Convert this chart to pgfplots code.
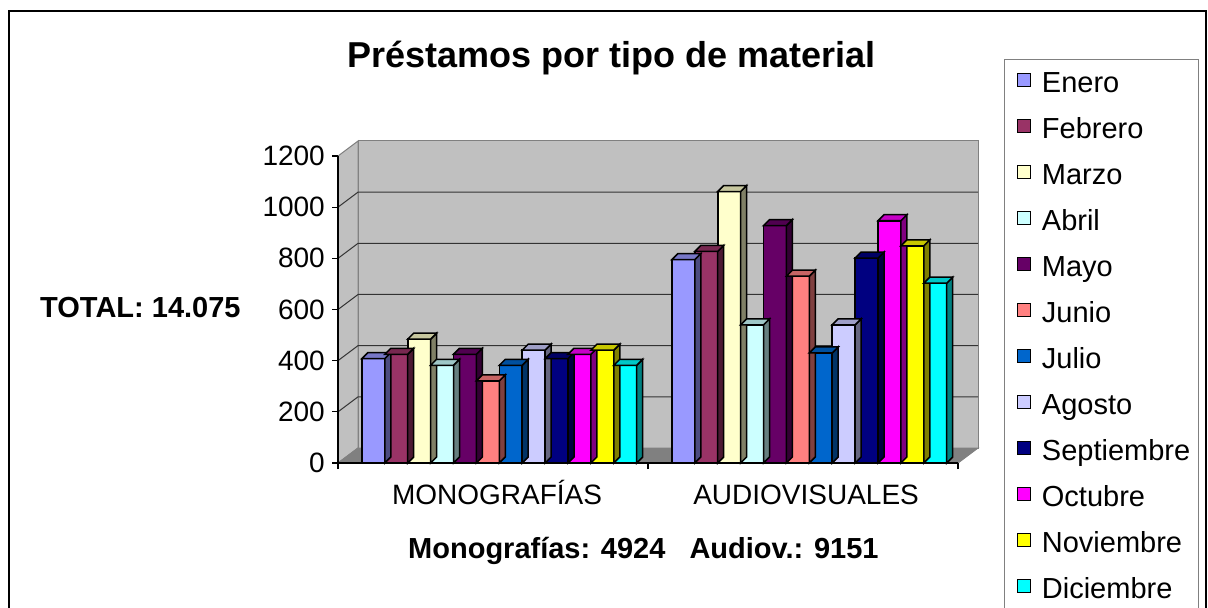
\documentclass[border=0pt]{standalone}
\usepackage{fontspec}
\setmainfont{Liberation Sans}
\usepackage{pgfplots}
\pgfplotsset{compat=1.18}

\definecolor{c1}{HTML}{9999FF}
\definecolor{c2}{HTML}{993366}
\definecolor{c3}{HTML}{FFFFCC}
\definecolor{c4}{HTML}{CCFFFF}
\definecolor{c5}{HTML}{660066}
\definecolor{c6}{HTML}{FF8080}
\definecolor{c7}{HTML}{0066CC}
\definecolor{c8}{HTML}{CCCCFF}
\definecolor{c9}{HTML}{000080}
\definecolor{c10}{HTML}{FF00FF}
\definecolor{c11}{HTML}{FFFF00}
\definecolor{c12}{HTML}{00FFFF}
\definecolor{wall}{HTML}{C0C0C0}
\definecolor{floorc}{HTML}{808080}
\definecolor{edge}{HTML}{808080}

\newdimen\sideh
\newdimen\sidet
\pgfdeclareplotmark{bartop}{%
  \pgfpathmoveto{\pgfqpoint{-11.45pt}{0pt}}%
  \pgfpathlineto{\pgfqpoint{11.45pt}{0pt}}%
  \pgfpathlineto{\pgfqpoint{17.45pt}{6pt}}%
  \pgfpathlineto{\pgfqpoint{-5.45pt}{6pt}}%
  \pgfpathclose
  \pgfusepathqfillstroke}
\pgfdeclareplotmark{barside}{%
  \sideh=\rawy pt\relax
  \sideh=0.2558333\sideh
  \sidet=6pt\relax
  \advance\sidet by -\sideh
  \pgfpathmoveto{\pgfqpoint{11.45pt}{0pt}}%
  \pgfpathlineto{\pgfqpoint{17.45pt}{6pt}}%
  \pgfpathlineto{\pgfqpoint{17.45pt}{\sidet}}%
  \pgfpathlineto{\pgfqpoint{11.45pt}{-\sideh}}%
  \pgfpathclose
  \pgfusepathqfillstroke}

\pgfplotsset{
  front/.style 2 args={ybar, bar width=22.9pt, bar shift=#1pt, fill=#2, draw=black, line width=1.6pt,
    legend image code/.code={\path (0pt,0pt); \draw[fill=#2, draw=black, line width=1.2pt] (4pt,-1pt) rectangle (17pt,12pt);}},
  side/.style 2 args={forget plot, only marks, mark=barside, visualization depends on={rawy \as \rawy},
    mark options={xshift=#1pt, fill=#2!50!black, draw=black, line width=1.5pt}},
  top/.style 2 args={forget plot, only marks, mark=bartop,
    mark options={xshift=#1pt, fill=#2!78!black, draw=black, line width=1.5pt}},
}

\begin{document}
\begin{tikzpicture}[x=1pt,y=1pt]
\useasboundingbox (0,0) rectangle (1208,608);
\clip (0,0) rectangle (1208,608);
\fill[white] (0,0) rectangle (1208,608);
\draw[line width=2pt] (9,597) rectangle (1206,-20);

\begin{axis}[
  at={(338pt,145pt)}, anchor=south west,
  scale only axis, width=620pt, height=307pt,
  xmin=-0.5, xmax=1.5, ymin=0, ymax=1200,
  clip=false, axis on top,
  axis x line*=bottom, axis y line*=left,
  axis line style={line width=1.3pt, black},
  tick align=outside, major tick length=6pt,
  tick style={line width=1.3pt, black},
  ytick={0,200,...,1200},
  xtick={-0.5,0.5,1.5}, xticklabels={},
  extra x ticks={0.013,1.01},
  extra x tick labels={MONOGRAFÍAS,AUDIOVISUALES},
  extra x tick style={major tick length=0pt, xticklabel style={text height=21pt, text depth=5pt, yshift=-17pt}},
  /pgf/number format/assume math mode=true,
  /pgf/number format/1000 sep={},
  tick label style={font=\fontsize{28}{33}\selectfont},
  yticklabel style={inner sep=0pt, xshift=-7pt},
  legend style={at={(1.0742,1.316)}, anchor=north west, draw=edge, line width=1pt,
    font=\fontsize{29}{34}\selectfont, inner xsep=8pt, inner ysep=12.4pt,
    row sep=19pt, column sep=11pt,
    nodes={inner sep=0pt, text height=21pt, text depth=6pt},
    cells={anchor=west}},
  legend cell align=left,
]
% walls
\filldraw[fill=wall, draw=edge, line width=1pt] ([shift={(20pt,15pt)}]axis cs:-0.5,0) rectangle ([shift={(20pt,15pt)}]axis cs:1.5,1200);
\filldraw[fill=wall, draw=edge, line width=1pt] (axis cs:-0.5,0) -- (axis cs:-0.5,1200) -- ([shift={(20pt,15pt)}]axis cs:-0.5,1200) -- ([shift={(20pt,15pt)}]axis cs:-0.5,0) -- cycle;
\filldraw[fill=floorc, draw=edge, line width=1pt] (axis cs:-0.5,0) -- (axis cs:1.5,0) -- ([shift={(20pt,15pt)}]axis cs:1.5,0) -- ([shift={(20pt,15pt)}]axis cs:-0.5,0) -- cycle;
\pgfplotsinvokeforeach{200,400,600,800,1000}{
  \draw[black!80, line width=1pt] (axis cs:-0.5,#1) -- ([shift={(20pt,15pt)}]axis cs:-0.5,#1) -- ([shift={(20pt,15pt)}]axis cs:1.5,#1);
}

\addplot[front={-119.65}{c1}] coordinates {(0,408) (1,795)}; \addlegendentry{Enero}
\addplot[side={-119.65}{c1}] coordinates {(0,408) (1,795)};
\addplot[top={-119.65}{c1}] coordinates {(0,408) (1,795)};

\addplot[front={-96.75}{c2}] coordinates {(0,425) (1,827)}; \addlegendentry{Febrero}
\addplot[side={-96.75}{c2}] coordinates {(0,425) (1,827)};
\addplot[top={-96.75}{c2}] coordinates {(0,425) (1,827)};

\addplot[front={-73.85}{c3}] coordinates {(0,484) (1,1061)}; \addlegendentry{Marzo}
\addplot[side={-73.85}{c3}] coordinates {(0,484) (1,1061)};
\addplot[top={-73.85}{c3}] coordinates {(0,484) (1,1061)};

\addplot[front={-50.95}{c4}] coordinates {(0,382) (1,540)}; \addlegendentry{Abril}
\addplot[side={-50.95}{c4}] coordinates {(0,382) (1,540)};
\addplot[top={-50.95}{c4}] coordinates {(0,382) (1,540)};

\addplot[front={-28.05}{c5}] coordinates {(0,425) (1,928)}; \addlegendentry{Mayo}
\addplot[side={-28.05}{c5}] coordinates {(0,425) (1,928)};
\addplot[top={-28.05}{c5}] coordinates {(0,425) (1,928)};

\addplot[front={-5.15}{c6}] coordinates {(0,321) (1,730)}; \addlegendentry{Junio}
\addplot[side={-5.15}{c6}] coordinates {(0,321) (1,730)};
\addplot[top={-5.15}{c6}] coordinates {(0,321) (1,730)};

\addplot[front={17.75}{c7}] coordinates {(0,382) (1,430)}; \addlegendentry{Julio}
\addplot[side={17.75}{c7}] coordinates {(0,382) (1,430)};
\addplot[top={17.75}{c7}] coordinates {(0,382) (1,430)};

\addplot[front={40.65}{c8}] coordinates {(0,441) (1,540)}; \addlegendentry{Agosto}
\addplot[side={40.65}{c8}] coordinates {(0,441) (1,540)};
\addplot[top={40.65}{c8}] coordinates {(0,441) (1,540)};

\addplot[front={63.55}{c9}] coordinates {(0,408) (1,801)}; \addlegendentry{Septiembre}
\addplot[side={63.55}{c9}] coordinates {(0,408) (1,801)};
\addplot[top={63.55}{c9}] coordinates {(0,408) (1,801)};

\addplot[front={86.45}{c10}] coordinates {(0,425) (1,947)}; \addlegendentry{Octubre}
\addplot[side={86.45}{c10}] coordinates {(0,425) (1,947)};
\addplot[top={86.45}{c10}] coordinates {(0,425) (1,947)};

\addplot[front={109.35}{c11}] coordinates {(0,441) (1,849)}; \addlegendentry{Noviembre}
\addplot[side={109.35}{c11}] coordinates {(0,441) (1,849)};
\addplot[top={109.35}{c11}] coordinates {(0,441) (1,849)};

\addplot[front={132.25}{c12}] coordinates {(0,382) (1,703)}; \addlegendentry{Diciembre}
\addplot[side={132.25}{c12}] coordinates {(0,382) (1,703)};
\addplot[top={132.25}{c12}] coordinates {(0,382) (1,703)};
\end{axis}

\node[anchor=base, inner sep=0pt, font=\bfseries\fontsize{36}{40}\selectfont] at (611.5,540) {Préstamos por tipo de material};
\node[anchor=base west, inner sep=0pt, font=\bfseries\fontsize{29}{34}\selectfont] at (40,290.5) {TOTAL: 14.075};
\node[anchor=base west, inner sep=0pt, font=\bfseries\fontsize{29}{34}\selectfont] at (408,49.5) {Monografías: 4924\hspace{24pt}Audiov.: 9151};
\end{tikzpicture}
\end{document}
